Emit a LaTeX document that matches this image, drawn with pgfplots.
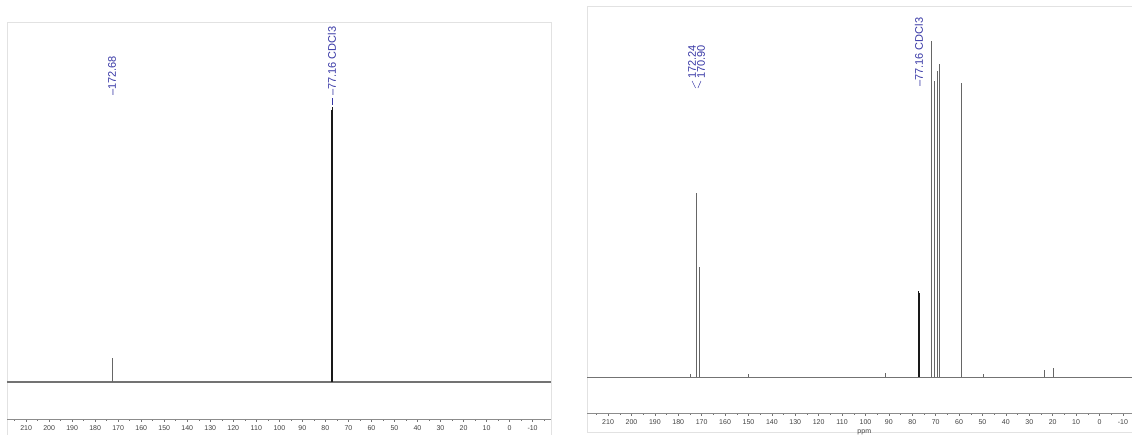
\documentclass[border=0pt]{standalone}
\usepackage{fontspec}
\setmainfont{Liberation Sans}
\usepackage{pgfplots}
\pgfplotsset{compat=1.18}
\definecolor{lbl}{RGB}{55,55,165}
\definecolor{frm}{RGB}{226,226,226}
\pgfplotsset{
  nmr/.style={
    scale only axis, x dir=reverse,
    axis x line=bottom, axis y line=none,
    x axis line style={-, black!45, line width=0.6pt},
    xtick={-10,0,...,210}, minor xtick={-15,-5,...,215},
    tick align=outside, major tick length=3pt, minor tick length=1.8pt,
    every tick/.style={black!55, line width=0.5pt},
    ytick=\empty,
    xticklabel style={font=\fontsize{7}{8}\selectfont, text=black!75},
    xlabel={ppm}, xlabel style={font=\fontsize{7}{8}\selectfont, text=black!75, yshift=2pt},
    /pgf/number format/assume math mode=true,
    unbounded coords=jump,
  },
}
\tikzset{plbl/.style={rotate=90, anchor=west, inner sep=0pt, text=lbl, font=\fontsize{11}{11}\selectfont}}
\begin{document}
\begin{tikzpicture}
\path[use as bounding box] (0pt,0pt) rectangle (1132pt,435pt);
\clip (0pt,0pt) rectangle (1132pt,435pt);
\draw[frm, line width=0.8pt] (7pt,-5pt) rectangle (551pt,413pt);
\draw[frm, line width=0.8pt] (587pt,3pt) rectangle (1145pt,429pt);

% Left spectrum
\begin{axis}[nmr, at={(7pt,16pt)}, anchor=south west,
  width=544pt, height=397pt, xmin=-18, xmax=218.3, ymin=-37, ymax=360]
\addplot[black!55, line width=1.4pt] coordinates {(218.3,0) (-18,0)};
\addplot[black!60, line width=0.7pt] coordinates {(172.68,0) (172.68,24)};
\addplot[black!90, line width=0.8pt] coordinates {
  (77.48,0) (77.48,272) (77.48,nan)
  (77.16,0) (77.16,275) (77.16,nan)
  (76.84,0) (76.84,270)
};
\node[plbl] at (axis cs:172.68,286) {–172.68};
\node[plbl] at (axis cs:77.16,286) {–77.16 CDCl3};
\draw[lbl, line width=0.5pt] (axis cs:77.16,284) -- (axis cs:77.16,277);
\end{axis}

% Right spectrum
\begin{axis}[nmr, at={(587pt,22pt)}, anchor=south west,
  width=554.6pt, height=407pt, xmin=-18, xmax=219, ymin=-36, ymax=371]
\addplot[black!55, line width=0.8pt] coordinates {(219,0) (-18,0)};
\addplot[black!60, line width=0.6pt] coordinates {
  (175.0,0) (175.0,3) (175.0,nan)
  (172.24,0) (172.24,184) (172.24,nan)
  (170.90,0) (170.90,110) (170.90,nan)
  (150.2,0) (150.2,3) (150.2,nan)
  (91.7,0) (91.7,4) (91.7,nan)
  (72.0,0) (72.0,336) (72.0,nan)
  (70.8,0) (70.8,296) (70.8,nan)
  (69.4,0) (69.4,306) (69.4,nan)
  (68.4,0) (68.4,313) (68.4,nan)
  (58.9,0) (58.9,294) (58.9,nan)
  (49.7,0) (49.7,3) (49.7,nan)
  (23.7,0) (23.7,7) (23.7,nan)
  (19.8,0) (19.8,9)
};
\addplot[black!90, line width=0.6pt] coordinates {
  (77.48,0) (77.48,86) (77.48,nan)
  (77.16,0) (77.16,84) (77.16,nan)
  (76.84,0) (76.84,77)
};
\node[plbl] at (axis cs:174.1,298) {172.24};
\node[plbl] at (axis cs:170.3,298) {170.90};
\draw[lbl, line width=0.5pt] (axis cs:174.1,296) -- (axis cs:172.6,289);
\draw[lbl, line width=0.5pt] (axis cs:170.3,296) -- (axis cs:171.6,289);
\node[plbl] at (axis cs:77.16,290) {–77.16 CDCl3};
\end{axis}
\end{tikzpicture}
\end{document}
